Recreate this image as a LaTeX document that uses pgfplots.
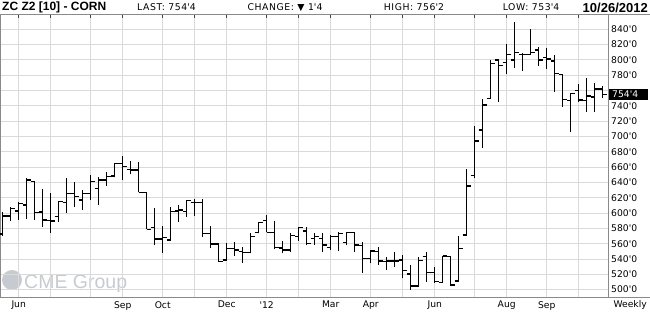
\documentclass[border=0pt]{standalone}
\usepackage{fontspec}
\setmainfont{DejaVu Sans}
\newfontfamily\hdrfont{Liberation Sans}
\newfontfamily\hdrtext[LetterSpace=6]{DejaVu Sans}
\usepackage{pgfplots}
\usepackage{pgfplotstable}
\pgfplotsset{compat=1.18}
\newcommand\q{\textquotesingle}
\definecolor{gridc}{HTML}{DADADA}
\definecolor{axc}{HTML}{8A8A8A}
\definecolor{wm}{HTML}{C6CBD1}
\pgfdeclareplotmark{otick}{\pgfpathmoveto{\pgfqpoint{-4.2pt}{0pt}}\pgfpathlineto{\pgfqpoint{0pt}{0pt}}\pgfusepathqstroke}
\pgfdeclareplotmark{ctick}{\pgfpathmoveto{\pgfqpoint{0pt}{0pt}}\pgfpathlineto{\pgfqpoint{4.2pt}{0pt}}\pgfusepathqstroke}
\pgfplotstableread{
k O H L C
0 572.6 601.7 570.4 596.1
1 596.1 607.4 590.0 606.1
2 602.6 614.8 590.8 612.6
3 610.4 645.2 592.2 643.0
4 640.9 640.9 590.8 600.4
5 601.3 631.3 582.2 590.8
6 590.4 626.5 574.3 589.5
7 595.6 615.6 588.7 614.8
8 613.5 646.1 600.4 625.6
9 625.6 640.9 608.2 621.3
10 617.0 630.0 603.9 625.6
11 625.6 649.5 617.0 640.9
12 632.2 647.4 610.4 643.0
13 643.0 653.0 635.6 647.4
14 648.2 664.8 646.5 664.8
15 664.8 674.3 643.0 660.4
16 656.9 668.2 650.4 656.1
17 656.1 666.9 626.9 626.9
18 626.9 626.9 578.7 578.7
19 581.3 606.1 557.8 566.1
20 566.1 583.0 548.2 567.8
21 564.8 608.2 564.8 601.7
22 602.6 610.4 588.7 603.9
23 601.7 616.9 595.2 616.1
24 613.5 618.2 596.5 613.5
25 613.5 618.2 569.1 573.5
26 573.5 583.0 553.9 559.5
27 559.5 559.5 536.5 536.5
28 538.7 560.4 538.7 553.9
29 553.9 561.7 544.3 551.7
30 549.5 556.1 535.2 548.7
31 548.7 574.3 547.4 569.1
32 574.3 588.7 573.5 587.8
33 590.0 597.4 574.8 574.8
34 574.8 589.6 552.6 554.8
35 554.3 563.9 547.4 551.7
36 551.7 573.5 549.6 570.4
37 569.1 581.3 563.9 581.3
38 576.5 582.2 558.3 560.4
39 567.0 573.5 558.3 569.1
40 567.0 573.5 548.7 558.3
41 555.2 571.3 551.7 569.1
42 569.1 574.8 550.9 573.5
43 561.3 574.8 558.3 574.8
44 574.8 574.8 549.6 558.3
45 557.4 562.6 522.2 540.9
46 540.9 551.8 534.4 550.5
47 549.6 556.1 532.2 537.4
48 536.6 543.1 525.7 537.4
49 537.4 549.6 530.0 537.4
50 538.7 545.3 514.8 524.8
51 520.5 532.2 499.6 504.8
52 504.8 542.2 504.8 537.9
53 543.1 549.6 510.5 522.2
54 522.2 529.2 509.2 510.5
55 509.2 543.9 509.2 543.9
56 543.1 543.1 504.8 506.1
57 511.3 570.0 510.5 553.9
58 571.3 657.4 571.3 635.2
59 648.7 713.5 645.2 693.9
60 708.3 748.7 685.3 740.9
61 749.6 799.6 749.6 795.3
62 799.6 799.6 745.2 792.2
63 796.6 820.0 780.9 807.0
64 799.6 849.6 788.7 809.6
65 807.0 809.2 785.7 807.0
66 807.0 840.0 806.1 809.2
67 812.6 817.0 792.2 799.6
68 803.1 814.8 787.4 800.9
69 798.3 806.1 758.3 782.2
70 780.9 780.9 738.7 748.3
71 747.0 756.1 705.3 756.1
72 760.0 768.3 745.2 747.4
73 746.5 775.7 732.2 752.6
74 751.3 769.2 732.2 761.8
75 761.8 766.1 749.6 754.5
}\ohlc
\begin{document}
\begin{tikzpicture}[x=1pt,y=1pt]
\path[use as bounding box] (0,0) rectangle (650,314);
% watermark
\fill[wm] (12,34) circle (10);
\node[anchor=base west, inner sep=0pt, text=wm, font=\fontsize{19.5}{21}\selectfont\hdrfont] at (24,26) {CME Group};
\begin{axis}[
  at={(0pt,17pt)}, anchor=south west,
  width=608pt, height=283pt, scale only axis,
  xmin=-0.3375, xmax=75.66, ymin=490.4, ymax=859.6,
  axis line style={draw=axc, line width=0.8pt},
  grid=major, major grid style={draw=gridc, line width=0.9pt},
  xtick={2,6,11,15,20,24,28,33,37,41,46,50,54,59,63,68,72},
  xticklabels={Jun,,,Sep,Oct,,Dec,\q12,,Mar,Apr,,Jun,,Aug,Sep,},
  xtick pos=upper, xticklabel pos=lower,
  tick align=inside, major tick length=4.5pt,
  xtick style={draw=black!75, line width=0.8pt},
  ytick={500,520,...,840},
  yticklabels={500\q0,520\q0,540\q0,560\q0,580\q0,600\q0,620\q0,640\q0,660\q0,680\q0,700\q0,720\q0,740\q0,,780\q0,800\q0,820\q0,840\q0},
  ytick style={draw=none},
  yticklabel pos=right,
  yticklabel style={font=\fontsize{9.2}{10}\selectfont, inner sep=0pt, anchor=west, xshift=3pt},
  xticklabel style={font=\fontsize{9.2}{10}\selectfont, inner sep=0pt, anchor=north, yshift=-4pt},
  clip=false,
]
\addplot[draw=none, mark=none, forget plot,
  error bars/.cd, y dir=plus, y explicit, error mark=none,
  error bar style={draw=black, solid, line width=1.35pt}]
  table[x=k, y=L, y error expr=\thisrow{H}-\thisrow{L}] {\ohlc};
\addplot[only marks, mark=otick, mark options={draw=black, solid, line width=1.35pt}] table[x=k, y=O] {\ohlc};
\addplot[only marks, mark=ctick, mark options={draw=black, solid, line width=1.35pt}] table[x=k, y=C] {\ohlc};
\node[anchor=west, fill=black, text=white, inner sep=0pt, minimum height=11pt, minimum width=39pt, text width=37pt, align=left, font=\fontsize{9.2}{10}\selectfont, xshift=1pt] at (rel axis cs:1,0) [yshift={(754.5-490.4)/(859.6-490.4)*283pt}] {\hspace{2pt}754\q4};
\end{axis}
\draw[axc, line width=0.8pt] (0,300) -- (650,300);
\draw[axc, line width=0.8pt] (0,17) -- (650,17);
% header
\node[anchor=west, inner sep=0pt, font=\fontsize{12}{13}\selectfont\hdrfont\bfseries] at (2,306.5) {ZC Z2 [10] - CORN};
\node[inner sep=0pt, font=\fontsize{9.3}{10}\selectfont\hdrtext] at (166.5,306.5) {LAST: 754\q4};
\node[inner sep=0pt, font=\fontsize{9.3}{10}\selectfont\hdrtext] at (285,306.5) {CHANGE: ▼ 1\q4};
\node[inner sep=0pt, font=\fontsize{9.3}{10}\selectfont\hdrtext] at (414,306.5) {HIGH: 756\q2};
\node[inner sep=0pt, font=\fontsize{9.3}{10}\selectfont\hdrtext] at (531,306.5) {LOW: 753\q4};
\node[anchor=east, inner sep=0pt, font=\fontsize{13}{14}\selectfont\hdrfont\bfseries] at (648,306.5) {10/26/2012};
\node[anchor=east, inner sep=0pt, font=\fontsize{9.2}{10}\selectfont] at (647,9) {Weekly};
\end{tikzpicture}
\end{document}
